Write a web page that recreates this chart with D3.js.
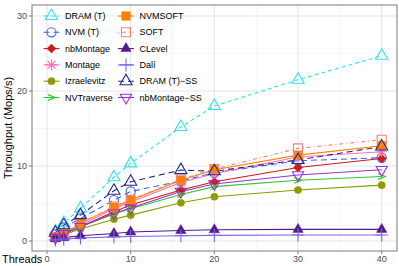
<!DOCTYPE html>
<html>
<head>
<meta charset="utf-8">
<script src="https://cdn.jsdelivr.net/npm/d3@7"></script>
<style>
  body { margin: 0; background: #fff; }
  text { font-family: "Liberation Sans", Arial, sans-serif; }
</style>
</head>
<body>
<script>
// thread counts on the x axis
const threads = [1, 2, 4, 8, 10, 16, 20, 30, 40];

// throughput (Mops/s) per system, one value per thread count
const dramT       = [1.3, 2.4, 4.35, 8.5, 10.35, 15.2, 18.0, 21.5, 24.7];
const nvmT        = [0.9, 1.8, 3.0, 5.45, 6.6, 8.0, 9.1, 10.7, 11.1];
const nbMontage   = [0.5, 1.0, 1.9, 3.9, 4.8, 6.8, 7.9, 9.8, 11.0];
const montage     = [0.5, 1.05, 2.1, 4.3, 5.2, 7.8, 9.0, 11.2, 11.9];
const izraelevitz = [0.4, 0.85, 1.6, 2.9, 3.45, 5.1, 5.9, 6.8, 7.45];
const nvTraverse  = [0.5, 1.0, 1.9, 3.6, 4.3, 6.2, 7.25, 8.1, 8.6];
const nvmSoft     = [0.55, 1.0, 2.35, 4.5, 5.45, 8.1, 9.5, 11.45, 12.7];
const soft        = [0.55, 1.05, 2.4, 4.6, 5.5, 8.2, 9.6, 12.35, 13.5];
const cLevel      = [0.3, 0.45, 0.7, 1.0, 1.2, 1.4, 1.5, 1.55, 1.55];
const dali        = [0.15, 0.25, 0.4, 0.55, 0.6, 0.7, 0.75, 0.8, 0.8];
const dramTSS     = [1.1, 2.1, 3.45, 6.7, 7.9, 9.45, 9.3, 10.8, 12.6];
const nbMontageSS = [0.45, 0.95, 1.9, 3.7, 4.4, 6.6, 7.6, 8.8, 9.5];

const xTicks = [0, 10, 20, 30, 40];
const yTicks = [0, 10, 20, 30];

const series = [
  {name: "DRAM (T)",     values: dramT,       color: "#2ee3ef", shape: "triUp",   fill: false, dash: "4,3", size: 7},
  {name: "NVM (T)",      values: nvmT,        color: "#3f63e8", shape: "circle",  fill: false, dash: "6,4", size: 4.6},
  {name: "nbMontage",    values: nbMontage,   color: "#cc1a1a", shape: "diamond", fill: true,  dash: null,  size: 4.5},
  {name: "Montage",      values: montage,     color: "#ff6ec0", shape: "star",    fill: false, dash: null,  size: 5.5},
  {name: "Izraelevitz",  values: izraelevitz, color: "#8b9b00", shape: "circle",  fill: true,  dash: null,  size: 3.6},
  {name: "NVTraverse",   values: nvTraverse,  color: "#33c633", shape: "chevron", fill: false, dash: null,  size: 3.6},
  {name: "NVMSOFT",      values: nvmSoft,     color: "#ff8000", shape: "square",  fill: true,  dash: null,  size: 4.3},
  {name: "SOFT",         values: soft,        color: "#fa8072", shape: "square",  fill: false, dash: "1,3,4,3", size: 4.5},
  {name: "CLevel",       values: cLevel,      color: "#551a8b", shape: "triUp",   fill: true,  dash: null,  size: 6},
  {name: "Dal\u00ed",    values: dali,        color: "#7b68ee", shape: "plus",    fill: false, dash: null,  size: 6.5},
  {name: "DRAM (T)\u2212SS",    values: dramTSS,     color: "#22288c", shape: "triUp",   fill: false, dash: "6,4", size: 7},
  {name: "nbMontage\u2212SS",   values: nbMontageSS, color: "#9932cc", shape: "triDown", fill: false, dash: null,  size: 6.5}
];

const W = 399, H = 266;
const panel = {left: 32, right: 397, top: 5, bottom: 251};

const x = d3.scaleLinear().domain([0, 40]).range([47, 381.7]);
const y = d3.scaleLinear().domain([0, 30]).range([241, 16]);

const svg = d3.select("body").append("svg")
  .attr("width", W).attr("height", H);

// gridlines
const grid = svg.append("g");
[5, 15, 25, 35].forEach(function (v) {
  grid.append("line").attr("x1", x(v)).attr("x2", x(v))
    .attr("y1", panel.top).attr("y2", panel.bottom)
    .attr("stroke", "#f2f2f2").attr("stroke-width", 0.6);
});
[5, 15, 25].forEach(function (v) {
  grid.append("line").attr("x1", panel.left).attr("x2", panel.right)
    .attr("y1", y(v)).attr("y2", y(v))
    .attr("stroke", "#f2f2f2").attr("stroke-width", 0.6);
});
xTicks.forEach(function (v) {
  grid.append("line").attr("x1", x(v)).attr("x2", x(v))
    .attr("y1", panel.top).attr("y2", panel.bottom)
    .attr("stroke", "#e6e6e6").attr("stroke-width", 1.1);
});
yTicks.forEach(function (v) {
  grid.append("line").attr("x1", panel.left).attr("x2", panel.right)
    .attr("y1", y(v)).attr("y2", y(v))
    .attr("stroke", "#e6e6e6").attr("stroke-width", 1.1);
});

// marker paths
function shapePath(shape, r) {
  const h = r * 0.866;
  switch (shape) {
    case "triUp":   return "M0," + (-r) + "L" + h + "," + (r / 2) + "L" + (-h) + "," + (r / 2) + "Z";
    case "triDown": return "M0," + r + "L" + h + "," + (-r / 2) + "L" + (-h) + "," + (-r / 2) + "Z";
    case "circle":  return d3.arc()({innerRadius: 0, outerRadius: r, startAngle: 0, endAngle: 2 * Math.PI}) + "Z";
    case "square":  return "M" + (-r) + "," + (-r) + "H" + r + "V" + r + "H" + (-r) + "Z";
    case "diamond": return "M0," + (-r) + "L" + r + ",0L0," + r + "L" + (-r) + ",0Z";
    case "plus":    return "M" + (-r) + ",0H" + r + "M0," + (-r) + "V" + r;
    case "star": {
      const d = r * 0.707;
      return "M" + (-r) + ",0H" + r + "M0," + (-r) + "V" + r +
        "M" + (-d) + "," + (-d) + "L" + d + "," + d + "M" + (-d) + "," + d + "L" + d + "," + (-d);
    }
    case "chevron": return "M" + (-r) + "," + (-r * 0.8) + "L" + r + ",0L" + (-r) + "," + (r * 0.8);
  }
}

function drawMarker(g, s, cx, cy) {
  g.append("path")
    .attr("d", shapePath(s.shape, s.size))
    .attr("transform", "translate(" + cx + "," + cy + ")")
    .attr("fill", s.fill ? s.color : "none")
    .attr("stroke", s.color)
    .attr("stroke-width", s.fill ? 0.5 : 1.1);
}

const line = d3.line()
  .x(function (d) { return x(d[0]); })
  .y(function (d) { return y(d[1]); });

const plot = svg.append("g");
series.forEach(function (s) {
  plot.append("path")
    .datum(threads.map(function (t, i) { return [t, s.values[i]]; }))
    .attr("d", line)
    .attr("fill", "none")
    .attr("stroke", s.color)
    .attr("stroke-width", 1.1)
    .attr("stroke-dasharray", s.dash);
});
series.forEach(function (s) {
  threads.forEach(function (t, i) {
    drawMarker(plot, s, x(t), y(s.values[i]));
  });
});

// panel border
svg.append("rect")
  .attr("x", panel.left).attr("y", panel.top)
  .attr("width", panel.right - panel.left).attr("height", panel.bottom - panel.top)
  .attr("fill", "none").attr("stroke", "#7a7a7a").attr("stroke-width", 1);

// axes ticks and labels
yTicks.forEach(function (v) {
  svg.append("line").attr("x1", panel.left - 3).attr("x2", panel.left)
    .attr("y1", y(v)).attr("y2", y(v)).attr("stroke", "#7a7a7a");
  svg.append("text").attr("x", panel.left - 5).attr("y", y(v)).attr("dy", "0.35em")
    .attr("text-anchor", "end").attr("font-size", 9).attr("fill", "#4d4d4d").text(v);
});
xTicks.forEach(function (v) {
  svg.append("line").attr("x1", x(v)).attr("x2", x(v))
    .attr("y1", panel.bottom).attr("y2", panel.bottom + 3).attr("stroke", "#7a7a7a");
  svg.append("text").attr("x", x(v)).attr("y", 262)
    .attr("text-anchor", "middle").attr("font-size", 9).attr("fill", "#4d4d4d").text(v);
});

svg.append("text").attr("x", 2).attr("y", 262.5)
  .attr("font-size", 11).attr("fill", "#000").text("Threads");

svg.append("text")
  .attr("transform", "translate(11.5," + ((panel.top + panel.bottom) / 2) + ") rotate(-90)")
  .attr("text-anchor", "middle").attr("font-size", 11).attr("fill", "#000")
  .text("Throughput (Mops/s)");

// legend inside the panel, two columns
const legend = svg.append("g");
series.forEach(function (s, i) {
  const col = Math.floor(i / 6), row = i % 6;
  const kx = col === 0 ? 51.5 : 126;
  const ky = 16 + row * 16.3;
  const g = legend.append("g");
  g.append("line").attr("x1", kx - 8).attr("x2", kx + 8)
    .attr("y1", ky).attr("y2", ky)
    .attr("stroke", s.color).attr("stroke-width", 1.1)
    .attr("stroke-dasharray", s.dash);
  drawMarker(g, s, kx, ky);
  g.append("text").attr("x", kx + 13.5).attr("y", ky).attr("dy", "0.35em")
    .attr("font-size", 9).attr("fill", "#000").text(s.name);
});
</script>
</body>
</html>
